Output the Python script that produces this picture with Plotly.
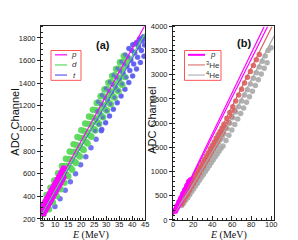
import plotly.graph_objects as go

# ---------------- Panel (a) data ----------------
# fit lines
a_p_line_E = [5, 45]
a_p_line_ADC = [262, 1912]
a_d_line_E = [5, 45]
a_d_line_ADC = [252, 1840]
a_t_line_E = [5, 45]
a_t_line_ADC = [245, 1815]

# proton points
a_p_E = [5.3, 5.9, 6.5, 7.1, 7.7, 8.3, 8.9, 9.5, 10.1, 10.7, 11.3, 11.9, 12.5, 13.1, 13.7,
         5.6, 6.2, 6.8, 7.4, 8.0, 8.6, 9.2, 9.8, 10.4, 11.0, 11.6, 12.2, 12.8, 13.4,
         5.6, 6.2, 6.8, 7.4, 8.0, 8.6, 9.2, 9.8, 10.4, 11.0, 11.6, 12.2, 12.8, 13.4]
a_p_ADC = [275, 300, 322, 350, 372, 400, 421, 450, 470, 498, 520, 548, 570, 597, 620,
           327, 351, 376, 401, 426, 451, 475, 500, 525, 550, 574, 599, 624, 648,
           247, 271, 296, 321, 346, 371, 395, 420, 445, 470, 494, 519, 544, 568]

# deuteron points
a_d_E = [6, 7.5, 9, 10.5, 12, 13.5, 15, 16.5, 18, 19.5, 21, 22.5, 24, 25.5, 27, 28.5, 30, 31.5, 33, 34.5, 36, 37.5,
         6.75, 8.25, 9.75, 11.25, 12.75, 14.25, 15.75, 17.25, 18.75, 20.25, 21.75, 23.25, 24.75, 26.25, 27.75,
         29.25, 30.75, 32.25, 33.75, 35.25, 36.75,
         6.4, 7.9, 9.4, 10.9, 12.4, 13.9, 15.4, 16.9, 18.4, 19.9, 21.4, 22.9, 24.4, 25.9, 27.4, 28.9, 30.4, 31.9,
         33.4, 34.9, 36.4, 37.9,
         5.6, 7.1, 8.6, 10.1, 11.6, 13.1, 14.6, 16.1, 17.6, 19.1, 20.6, 22.1, 23.6, 25.1, 26.6, 28.1, 29.6, 31.1,
         32.6, 34.1, 35.6, 37.1,
         7.7, 9.2, 10.7, 12.2, 13.7, 15.2, 16.7, 18.2, 19.7, 21.2, 22.7, 24.2, 25.7, 27.2, 28.7, 30.2, 31.7, 33.2,
         34.7, 36.2]
a_d_ADC = [305, 360, 430, 480, 550, 600, 670, 725, 795, 845, 915, 965, 1035, 1090, 1160, 1210, 1280, 1330, 1400, 1450, 1520, 1570,
           413, 477, 540, 605, 669, 733, 797, 861, 925, 985, 1045, 1105, 1165, 1225, 1285,
           1345, 1405, 1465, 1525, 1585, 1640,
           360, 420, 485, 545, 605, 668, 730, 792, 855, 915, 978, 1040, 1100, 1162, 1225, 1285, 1348, 1410,
           1470, 1530, 1590, 1620,
           245, 305, 362, 420, 478, 535, 592, 650, 708, 765, 822, 880, 938, 995, 1052, 1110, 1168, 1225,
           1282, 1340, 1398, 1455,
           286, 345, 404, 462, 520, 578, 636, 694, 752, 810, 868, 926, 984, 1042, 1100, 1158, 1215, 1272,
           1330, 1385]

# triton points
a_t_E = [10, 12, 14, 16, 18, 20, 22, 24, 26, 28,
         26, 27.5, 29, 30.5, 32, 33.5, 35, 36.5, 38, 39.5, 41, 42.5, 44,
         26.75, 28.25, 29.75, 31.25, 32.75, 34.25, 35.75, 37.25, 38.75, 40.25, 41.75, 43.25,
         26.4, 27.9, 29.4, 30.9, 32.4, 33.9, 35.4, 36.9, 38.4, 39.9, 41.4, 42.9, 44.4,
         25.6, 27.1, 28.6, 30.1, 31.6, 33.1, 34.6, 36.1, 37.6, 39.1, 40.6, 42.1, 43.6, 44.8,
         28.2, 29.7, 31.2, 32.7, 34.2, 35.7, 37.2, 38.7, 40.2, 41.7, 43.2, 44.6]
a_t_ADC = [310, 380, 455, 530, 600, 680, 750, 830, 905, 980,
           1080, 1130, 1200, 1250, 1315, 1365, 1435, 1485, 1550, 1605, 1670, 1720, 1780,
           1234, 1293, 1353, 1412, 1471, 1530, 1590, 1649, 1708, 1740, 1760, 1790,
           1155, 1214, 1274, 1333, 1392, 1452, 1511, 1570, 1629, 1689, 1748, 1790, 1810,
           979, 1038, 1097, 1156, 1216, 1275, 1334, 1393, 1453, 1512, 1571, 1630, 1690, 1737,
           991, 1051, 1110, 1169, 1228, 1288, 1347, 1406, 1465, 1525, 1584, 1639]

# ---------------- Panel (b) data ----------------
b_p_line1_E = [0, 93]
b_p_line1_ADC = [100, 4000]
b_p_line2_E = [0, 96.5]
b_p_line2_ADC = [100, 4000]
b_he3_line_E = [0, 20, 50.6, 101]
b_he3_line_ADC = [100, 830, 1950, 4000]
b_he4_line_E = [0, 20, 55.8, 103]
b_he4_line_ADC = [100, 720, 1950, 3800]

b_p_E = [2, 3, 4, 5, 6, 7, 8, 9, 10, 11, 12, 13, 14, 15, 16, 17, 18,
         2.5, 3.5, 4.5, 5.5, 6.5, 7.5, 8.5, 9.5, 10.5, 11.5, 12.5, 13.5, 14.5, 15.5]
b_p_ADC = [200, 210, 290, 300, 370, 380, 450, 470, 540, 550, 620, 640, 700, 720, 790, 800, 830,
           180, 240, 260, 320, 345, 410, 420, 490, 510, 570, 590, 650, 670, 740]

b_he3_E = [8, 10, 12, 14, 16, 18, 20, 22, 24, 26, 28, 30, 32, 34, 36, 38, 40, 42, 44, 46, 48, 50, 52, 55,
           58, 61, 64, 67, 70, 73, 76, 79, 82, 85, 88,
           9, 11, 13, 15, 17, 19, 21, 23, 25, 27, 29, 31, 33, 35, 37, 39, 41, 43, 45, 47, 49, 51, 53.5, 56.5,
           59.5, 62.5]
b_he3_ADC = [380, 450, 520, 600, 670, 740, 810, 890, 960, 1030, 1100, 1180, 1250, 1320, 1390, 1470, 1540, 1610,
             1690, 1760, 1830, 1900, 1980, 2100, 2220, 2340, 2460, 2580, 2700, 2830, 2950, 3070, 3190, 3310, 3420,
             330, 400, 480, 540, 620, 690, 760, 830, 900, 970, 1050, 1110, 1190, 1250, 1330, 1400, 1470, 1540,
             1610, 1680, 1760, 1820, 1910, 2020, 2140, 2260]

b_he4_E = [8, 10, 12, 14, 16, 18, 20, 22, 24, 26, 28, 30, 32, 34, 36, 38, 40, 42, 44, 46, 48, 50, 52, 55,
           58, 61, 64, 67, 70, 73, 76, 79, 82, 85, 88, 91, 94, 97, 100,
           9, 11, 13, 15, 17, 19, 21, 23, 25, 27, 29, 31, 33, 35, 37, 39, 41, 43, 45, 47, 49, 51, 54, 57, 60,
           63, 66, 69, 72, 75, 78, 81, 84, 87, 90, 93, 96]
b_he4_ADC = [320, 380, 440, 500, 560, 620, 690, 760, 830, 890, 960, 1030, 1100, 1170, 1240, 1300, 1370, 1440,
             1510, 1580, 1650, 1710, 1780, 1890, 2000, 2110, 2230, 2340, 2460, 2580, 2690, 2810, 2930, 3040,
             3160, 3280, 3390, 3500, 3560,
             300, 350, 410, 460, 520, 580, 640, 700, 760, 820, 880, 940, 1000, 1060, 1120, 1180, 1240, 1300,
             1360, 1420, 1480, 1530, 1640, 1750, 1860, 1975, 2085, 2200, 2315, 2430, 2545, 2660, 2780, 2900,
             3015, 3135, 3250]

a_xticks = [5, 10, 15, 20, 25, 30, 35, 40, 45]
a_yticks = [200, 400, 600, 800, 1000, 1200, 1400, 1600, 1800]
b_xticks = [0, 20, 40, 60, 80, 100]
b_yticks = [0, 500, 1000, 1500, 2000, 2500, 3000, 3500, 4000]

MAG = "#FF00FF"
GRN = "#5BD95B"
BLU = "#5A5AF0"
RED = "#D96060"
GRY = "#A8A8A8"

fig = go.Figure()

def pts(x, y, color, xa, ya, size=4, op=0.55):
    fig.add_trace(go.Scatter(x=x, y=y, mode="markers", xaxis=xa, yaxis=ya, showlegend=False,
                             marker=dict(color=color, size=size, opacity=op, line=dict(width=0))))

def line(x, y, color, xa, ya, w=1.2):
    fig.add_trace(go.Scatter(x=x, y=y, mode="lines", xaxis=xa, yaxis=ya, showlegend=False,
                             line=dict(color=color, width=w)))

# panel a
pts(a_t_E, a_t_ADC, BLU, "x", "y", 5.5, 0.85)
pts(a_d_E, a_d_ADC, GRN, "x", "y", 6.5, 0.95)
pts(a_t_E[10:], a_t_ADC[10:], BLU, "x", "y", 4, 0.7)
pts(a_p_E, a_p_ADC, MAG, "x", "y", 6, 0.95)
line(a_t_line_E, a_t_line_ADC, BLU, "x", "y")
line(a_d_line_E, a_d_line_ADC, GRN, "x", "y")
line(a_p_line_E, a_p_line_ADC, MAG, "x", "y")

# panel b
pts(b_he4_E, b_he4_ADC, GRY, "x2", "y2", 5.5, 0.9)
pts(b_he3_E, b_he3_ADC, RED, "x2", "y2", 5.5, 0.9)
pts(b_p_E, b_p_ADC, MAG, "x2", "y2", 5.5, 0.95)
line(b_he4_line_E, b_he4_line_ADC, GRY, "x2", "y2")
line(b_he3_line_E, b_he3_line_ADC, RED, "x2", "y2")
line(b_p_line1_E, b_p_line1_ADC, MAG, "x2", "y2")
line(b_p_line2_E, b_p_line2_ADC, MAG, "x2", "y2")

W, H = 298, 240
def px(x): return x / W
def py(y): return 1 - y / H

tickfont = dict(family="Liberation Sans, Arial", size=7.5, color="#222")
common = dict(showgrid=False, zeroline=False, showline=True, linecolor="#222", linewidth=1,
              mirror=True, tickfont=tickfont, tickcolor="#222")

fig.update_layout(
    width=W, height=H, margin=dict(l=0, r=0, t=0, b=0),
    paper_bgcolor="white", plot_bgcolor="white", showlegend=False,
    xaxis=dict(domain=[px(33), px(137)], range=[4.6, 45], tickvals=a_xticks, ticks="inside", ticklen=4,
               showticklabels=False,
               minor=dict(dtick=1, ticks="inside", ticklen=2, tickcolor="#222"), anchor="y", **common),
    yaxis=dict(domain=[py(216), py(15)], range=[192, 1902], tickvals=a_yticks, ticks="outside", ticklen=3,
               minor=dict(dtick=50, ticks="inside", ticklen=2, tickcolor="#222"), anchor="x", **common),
    xaxis2=dict(domain=[px(165), px(266)], range=[0, 103], tickvals=b_xticks, ticks="inside", ticklen=4,
                showticklabels=False,
                minor=dict(dtick=5, ticks="inside", ticklen=2, tickcolor="#222"), anchor="y2", **common),
    yaxis2=dict(domain=[py(216), py(15)], range=[0, 4000], tickvals=b_yticks, ticks="outside", ticklen=3,
                minor=dict(dtick=100, ticks="inside", ticklen=2, tickcolor="#222"), anchor="x2", **common),
)

ann = []
# x tick labels placed just under the axes
xtickfont = dict(family="Liberation Sans, Arial", size=7.5, color="#222")
for v in a_xticks:
    ann.append(dict(x=v, xref="x", y=py(220.5), yref="paper", text=str(v), font=xtickfont))
for v in b_xticks:
    ann.append(dict(x=v, xref="x2", y=py(220.5), yref="paper", text=str(v), font=xtickfont))

titlefont = dict(family="Liberation Sans, Arial", size=11, color="#111")
serif = dict(family="Liberation Serif, Times New Roman", size=10, color="#111")
ann.append(dict(x=px(7), y=py(115), text="ADC Channel", textangle=-90, font=titlefont))
ann.append(dict(x=px(144), y=py(113), text="ADC Channel", textangle=-90, font=titlefont))
ann.append(dict(x=px(82), y=py(231.5), text="<i>E</i> (MeV)", font=serif))
ann.append(dict(x=px(220), y=py(231.5), text="<i>E</i> (MeV)", font=serif))
ann.append(dict(x=px(95), y=py(34), text="<b>(a)</b>", font=dict(family="Liberation Sans, Arial", size=11, color="#111")))
ann.append(dict(x=px(236), y=py(32), text="<b>(b)</b>", font=dict(family="Liberation Sans, Arial", size=11, color="#111")))

shapes = []
# legend (a)
shapes.append(dict(type="rect", xref="paper", yref="paper", x0=px(43), x1=px(73), y0=py(71), y1=py(40),
                   line=dict(color="#FF5555", width=1), fillcolor="white", layer="above"))
leg_a = [("p", MAG, 44.5), ("d", GRN, 55), ("t", BLU, 65.5)]
for lab, col, yy in leg_a:
    shapes.append(dict(type="line", xref="paper", yref="paper", x0=px(47), x1=px(59), y0=py(yy), y1=py(yy),
                       line=dict(color=col, width=1.2), layer="above"))
    ann.append(dict(x=px(66), y=py(yy), text="<i>%s</i>" % lab,
                    font=dict(family="Liberation Sans, Arial", size=8, color="#333")))
# legend (b)
shapes.append(dict(type="rect", xref="paper", yref="paper", x0=px(176.5), x1=px(213), y0=py(71), y1=py(40),
                   line=dict(color="#FF5555", width=1), fillcolor="white", layer="above"))
leg_b = [("<i>p</i>", MAG, 44.5, 2), ("<sup>3</sup>He", RED, 55, 1), ("<sup>4</sup>He", GRY, 65.5, 1)]
for lab, col, yy, w in leg_b:
    shapes.append(dict(type="line", xref="paper", yref="paper", x0=px(180), x1=px(197), y0=py(yy), y1=py(yy),
                       line=dict(color=col, width=w), layer="above"))
    ann.append(dict(x=px(205), y=py(yy), text=lab,
                    font=dict(family="Liberation Sans, Arial", size=8, color="#333")))

for a in ann:
    a.setdefault("xref", "paper")
    a.setdefault("yref", "paper")
    a.update(showarrow=False, xanchor="center", yanchor="middle", borderpad=0)
fig.update_layout(annotations=ann, shapes=shapes)

fig.write_html("out.html")
